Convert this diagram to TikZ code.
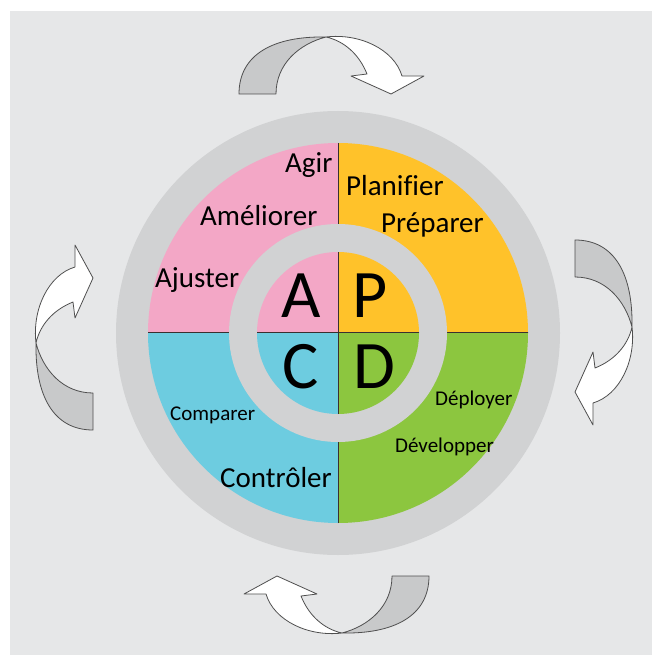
\documentclass[tikz,border=0pt]{standalone}
\usepackage{fontspec}
\setmainfont{Carlito}[Ligatures=NoCommon]
\definecolor{bgc}{HTML}{E6E7E8}
\definecolor{ringc}{HTML}{D1D2D3}
\definecolor{pinkc}{HTML}{F3A7C6}
\definecolor{yellowc}{HTML}{FFC22A}
\definecolor{bluec}{HTML}{6DCCE0}
\definecolor{greenc}{HTML}{8CC63F}
\definecolor{arrgrayc}{HTML}{C8C9CA}
\definecolor{arrlinec}{HTML}{4F4F4F}
\definecolor{divc}{HTML}{3A3030}
\tikzset{
  arrgray/.style={fill=arrgrayc,draw=arrlinec,line width=0.8pt,line join=round},
  arrwhite/.style={fill=white,draw=arrlinec,line width=0.8pt,line join=round},
  divider/.style={draw=divc,line width=1pt},
  biglabel/.style={inner sep=0pt,anchor=base west,font=\fontsize{29}{32}\selectfont},
  smalllabel/.style={inner sep=0pt,anchor=base west,font=\fontsize{21}{24}\selectfont},
  letter/.style={inner sep=0pt,anchor=base,font=\fontsize{68}{70}\selectfont}
}
\newcommand{\pdcaarrow}[1]{%
  \begin{scope}[shift={(334,335)},rotate=#1]
    \filldraw[arrgray] (241,-95) .. controls (281,-95) and (299,-60) .. (298,-8)
      .. controls (291,-35) and (271,-58) .. (241,-58) -- cycle;
    \filldraw[arrwhite] (298,-8) .. controls (302,25) and (286,60) .. (259,68)
      -- (259,90) -- (241,57) -- (259,17) -- (261,33)
      .. controls (281,25) and (294,10) .. (298,-8) -- cycle;
  \end{scope}}
\begin{document}
\begin{tikzpicture}[x=1pt,y=-1pt]
\useasboundingbox (0,0) rectangle (652,655);
\fill[bgc] (10,11) rectangle (652,655);
% arrows
\pdcaarrow{0}
\pdcaarrow{90}
\pdcaarrow{180}
\pdcaarrow{270}
% outer ring
\fill[ringc] (338,333) circle (222pt);
\begin{scope}
  \clip (338,333) circle (190pt);
  \fill[pinkc] (338,333) rectangle (100,100);
  \fill[yellowc] (338,333) rectangle (580,100);
  \fill[bluec] (338,333) rectangle (100,580);
  \fill[greenc] (338,333) rectangle (580,580);
  \draw[divider] (338,100) -- (338,580);
  \draw[divider] (100,332) -- (580,332);
\end{scope}
% inner ring
\fill[ringc] (338,333) circle (109pt);
\begin{scope}
  \clip (338,333) circle (81pt);
  \fill[pinkc] (338,333) rectangle (200,200);
  \fill[yellowc] (338,333) rectangle (480,200);
  \fill[bluec] (338,333) rectangle (200,480);
  \fill[greenc] (338,333) rectangle (480,480);
  \draw[divider] (338,200) -- (338,480);
  \draw[divider] (200,332) -- (480,332);
\end{scope}
% labels
\node[biglabel] (agir) at (285,172) {Agir};
\node[biglabel] (ameliorer) at (200,225) {Améliorer};
\node[biglabel] (ajuster) at (155,287) {Ajuster};
\node[biglabel] (planifier) at (346,195) {Planifier};
\node[biglabel] (preparer) at (381,232) {Préparer};
\node[smalllabel] (comparer) at (170,420) {Comparer};
\node[biglabel] (controler) at (220,487) {Contrôler};
\node[smalllabel] (deployer) at (435,405) {Déployer};
\node[smalllabel] (developper) at (395,452) {Développer};
\node[letter] (la) at (301,317) {A};
\node[letter] (lp) at (370,317) {P};
\node[letter] (lc) at (301,388) {C};
\node[letter] (ld) at (374,388) {D};
\end{tikzpicture}
\end{document}
